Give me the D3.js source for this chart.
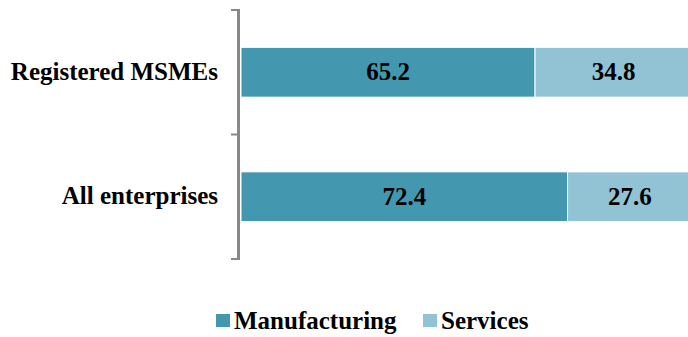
<!DOCTYPE html>
<html>
<head>
<meta charset="utf-8">
<script src="https://cdn.jsdelivr.net/npm/d3@7"></script>
<style>
  html, body { margin: 0; padding: 0; background: #fff; }
  svg { display: block; }
</style>
</head>
<body>
<svg id="chart" width="688" height="337"></svg>
<script>
// Share of enterprises by sector (%)
const categories = ["Registered MSMEs", "All enterprises"];
const seriesNames = ["Manufacturing", "Services"];
const manufacturing = [65.2, 72.4];
const services = [34.8, 27.6];
const colors = ["#4397ae", "#92c3d5"];

const FONT = "'Liberation Serif', 'Times New Roman', Times, serif";
const FS = 25;

const svg = d3.select("#chart");

// Plot area: bars run past the right edge of the canvas
const x = d3.scaleLinear().domain([0, 100]).range([241, 692]);
const y = d3.scaleBand().domain(categories).range([10, 259]).paddingInner(0.6).paddingOuter(0.3);

const rows = categories.map((c, i) => ({ category: c, values: [manufacturing[i], services[i]] }));
const stacked = d3.stack().keys([0, 1]).value((d, k) => d.values[k])(rows);

// Bars
const layers = svg.append("g").selectAll("g")
  .data(stacked)
  .join("g")
  .attr("fill", (d, i) => colors[i]);

layers.selectAll("rect")
  .data(d => d)
  .join("rect")
  .attr("x", d => x(d[0]))
  .attr("width", d => x(d[1]) - x(d[0]))
  .attr("y", d => y(d.data.category))
  .attr("height", y.bandwidth())
  .attr("stroke", "#fff")
  .attr("stroke-width", 1);

// Value labels centred in each segment
layers.selectAll("text")
  .data(d => d.map(s => ({ s, v: s[1] - s[0] })))
  .join("text")
  .attr("x", d => (x(d.s[0]) + x(d.s[1])) / 2)
  .attr("y", d => y(d.s.data.category) + y.bandwidth() / 2)
  .attr("dy", "0.32em")
  .attr("text-anchor", "middle")
  .attr("font-family", FONT)
  .attr("font-weight", "bold")
  .attr("font-size", FS)
  .attr("fill", "#000")
  .text(d => d.v.toFixed(1));

// Category axis: vertical line with ticks between bands
const axisX = 238.5;
const axisG = svg.append("g").attr("stroke", "#888").attr("stroke-width", 3).attr("fill", "none");
const [r0, r1] = y.range();
axisG.append("line").attr("x1", axisX).attr("x2", axisX).attr("y1", r0 - 1).attr("y2", r1 + 1);
const tickYs = [r0, (r0 + r1) / 2, r1];
axisG.selectAll("line.tick")
  .data(tickYs)
  .join("line")
  .attr("class", "tick")
  .attr("stroke-width", 2)
  .attr("x1", 231).attr("x2", axisX)
  .attr("y1", d => d).attr("y2", d => d);

// Category labels
svg.append("g").selectAll("text")
  .data(categories)
  .join("text")
  .attr("x", 218)
  .attr("y", d => y(d) + y.bandwidth() / 2)
  .attr("dy", "0.3em")
  .attr("text-anchor", "end")
  .attr("font-family", FONT)
  .attr("font-weight", "bold")
  .attr("font-size", FS)
  .attr("fill", "#000")
  .text(d => d);

// Legend
const legendItems = [
  { name: seriesNames[0], color: colors[0], x: 216 },
  { name: seriesNames[1], color: colors[1], x: 423 }
];
const lg = svg.append("g").selectAll("g")
  .data(legendItems)
  .join("g")
  .attr("transform", d => `translate(${d.x},314)`);
lg.append("rect").attr("width", 14).attr("height", 13).attr("fill", d => d.color);
lg.append("text")
  .attr("x", 18)
  .attr("y", 15)
  .attr("font-family", FONT)
  .attr("font-weight", "bold")
  .attr("font-size", FS)
  .attr("fill", "#000")
  .text(d => d.name);
</script>
</body>
</html>
